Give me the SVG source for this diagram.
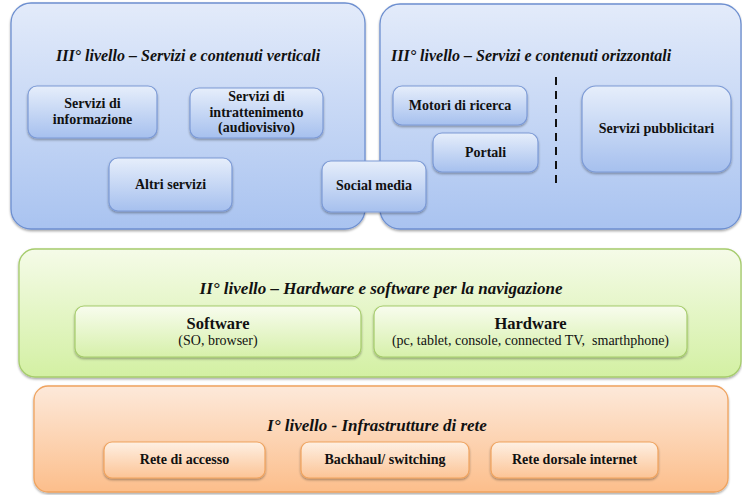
<svg xmlns="http://www.w3.org/2000/svg" width="742" height="495" viewBox="0 0 742 495">
<defs>
<linearGradient id="gBlueP" x1="0" y1="0" x2="0" y2="1"><stop offset="0" stop-color="#e3ebfa"/><stop offset="1" stop-color="#a9c3f0"/></linearGradient>
<linearGradient id="gBlueB" x1="0" y1="0" x2="0" y2="1"><stop offset="0" stop-color="#e6eefb"/><stop offset="1" stop-color="#a6c0ee"/></linearGradient>
<linearGradient id="gGreenP" x1="0" y1="0" x2="0" y2="1"><stop offset="0" stop-color="#f5fbe8"/><stop offset="1" stop-color="#d3f0a3"/></linearGradient>
<linearGradient id="gGreenB" x1="0" y1="0" x2="0" y2="1"><stop offset="0" stop-color="#f8fcee"/><stop offset="1" stop-color="#d6f0aa"/></linearGradient>
<linearGradient id="gOrP" x1="0" y1="0" x2="0" y2="1"><stop offset="0" stop-color="#fde9da"/><stop offset="1" stop-color="#fcbe8b"/></linearGradient>
<linearGradient id="gOrB" x1="0" y1="0" x2="0" y2="1"><stop offset="0" stop-color="#fef0e3"/><stop offset="1" stop-color="#fcc496"/></linearGradient>
<filter id="sh" x="-10%" y="-10%" width="120%" height="130%"><feDropShadow dx="0" dy="1.5" stdDeviation="1.2" flood-color="#000" flood-opacity="0.35"/></filter>
</defs>
<style>
.pb{fill:url(#gBlueP);stroke:#6d8fd0;stroke-width:1.3}
.bb{fill:url(#gBlueB);stroke:#7c9ad6;stroke-width:1.2}
.pg{fill:url(#gGreenP);stroke:#a6cc6c;stroke-width:1.3}
.bg{fill:url(#gGreenB);stroke:#a6cc6c;stroke-width:1.2}
.po{fill:url(#gOrP);stroke:#f0a35e;stroke-width:1.3}
.bo{fill:url(#gOrB);stroke:#f0a35e;stroke-width:1.2}
text{font-family:'Liberation Serif','DejaVu Serif',serif;fill:#111}
.t{font-weight:bold;font-style:italic;font-size:16px}
.b{font-weight:bold;font-size:14px;text-anchor:middle}
.s{font-size:14px;text-anchor:middle}
.bl{font-weight:bold;font-size:16.5px;text-anchor:middle}
</style>
<g id="panel-verticali">
<rect class="pb" x="11" y="3" width="354" height="226" rx="20" filter="url(#sh)"/>
<text class="t" x="188" y="61" text-anchor="middle">III° livello – Servizi e contenuti verticali</text>
</g>
<g id="panel-orizzontali">
<rect class="pb" x="380" y="4" width="361" height="225" rx="20" filter="url(#sh)"/>
<text class="t" x="391" y="61">III° livello – Servizi e contenuti orizzontali</text>
<line x1="556" y1="77" x2="556" y2="188" stroke="#111" stroke-width="2" stroke-dasharray="8,6"/>
</g>
<g id="servizi-informazione">
<rect class="bb" x="28" y="86" width="129" height="52" rx="9" filter="url(#sh)"/>
<text class="b" x="92.5" y="108">Servizi di</text>
<text class="b" x="92.5" y="124">informazione</text>
</g>
<g id="servizi-intrattenimento">
<rect class="bb" x="190" y="88" width="133" height="50" rx="9" filter="url(#sh)"/>
<text class="b" x="256.5" y="101">Servizi di</text>
<text class="b" x="256.5" y="117">intrattenimento</text>
<text class="b" x="256.5" y="132">(audiovisivo)</text>
</g>
<g id="altri-servizi">
<rect class="bb" x="109" y="158" width="123" height="53" rx="9" filter="url(#sh)"/>
<text class="b" x="170.5" y="189">Altri servizi</text>
</g>
<g id="social-media">
<rect class="bb" x="322" y="161" width="104" height="51" rx="9" filter="url(#sh)"/>
<text class="b" x="374" y="190">Social media</text>
</g>
<g id="motori-ricerca">
<rect class="bb" x="393" y="86" width="134" height="39" rx="9" filter="url(#sh)"/>
<text class="b" x="460" y="110">Motori di ricerca</text>
</g>
<g id="portali">
<rect class="bb" x="433" y="133" width="105" height="39" rx="9" filter="url(#sh)"/>
<text class="b" x="485.5" y="157">Portali</text>
</g>
<g id="servizi-pubblicitari">
<rect class="bb" x="582" y="86" width="149" height="86" rx="14" filter="url(#sh)"/>
<text class="b" x="656.5" y="133">Servizi pubblicitari</text>
</g>
<g id="panel-hw-sw">
<rect class="pg" x="19" y="249" width="722" height="128" rx="16" filter="url(#sh)"/>
<text class="t" x="381" y="294" text-anchor="middle" style="font-size:17px">II° livello – Hardware e software per la navigazione</text>
</g>
<g id="software">
<rect class="bg" x="75" y="306" width="286" height="51" rx="9" filter="url(#sh)"/>
<text class="bl" x="218" y="329">Software</text>
<text class="s" x="218" y="345">(SO, browser)</text>
</g>
<g id="hardware">
<rect class="bg" x="374" y="306" width="313" height="51" rx="9" filter="url(#sh)"/>
<text class="bl" x="530.5" y="329">Hardware</text>
<text class="s" x="530.5" y="345" xml:space="preserve">(pc, tablet, console, connected TV,  smarthphone)</text>
</g>
<g id="panel-infrastrutture">
<rect class="po" x="34" y="386" width="694" height="106" rx="14" filter="url(#sh)"/>
<text class="t" x="377" y="431" text-anchor="middle" style="font-size:17px">I° livello - Infrastrutture di rete</text>
</g>
<g id="rete-accesso">
<rect class="bo" x="104" y="442" width="161" height="36" rx="8" filter="url(#sh)"/>
<text class="b" x="184.5" y="464">Rete di accesso</text>
</g>
<g id="backhaul">
<rect class="bo" x="301" y="442" width="168" height="36" rx="8" filter="url(#sh)"/>
<text class="b" x="385" y="464">Backhaul/ switching</text>
</g>
<g id="rete-dorsale">
<rect class="bo" x="491" y="442" width="167" height="36" rx="8" filter="url(#sh)"/>
<text class="b" x="574.5" y="464">Rete dorsale internet</text>
</g>
<g id="connectors"></g>
</svg>
